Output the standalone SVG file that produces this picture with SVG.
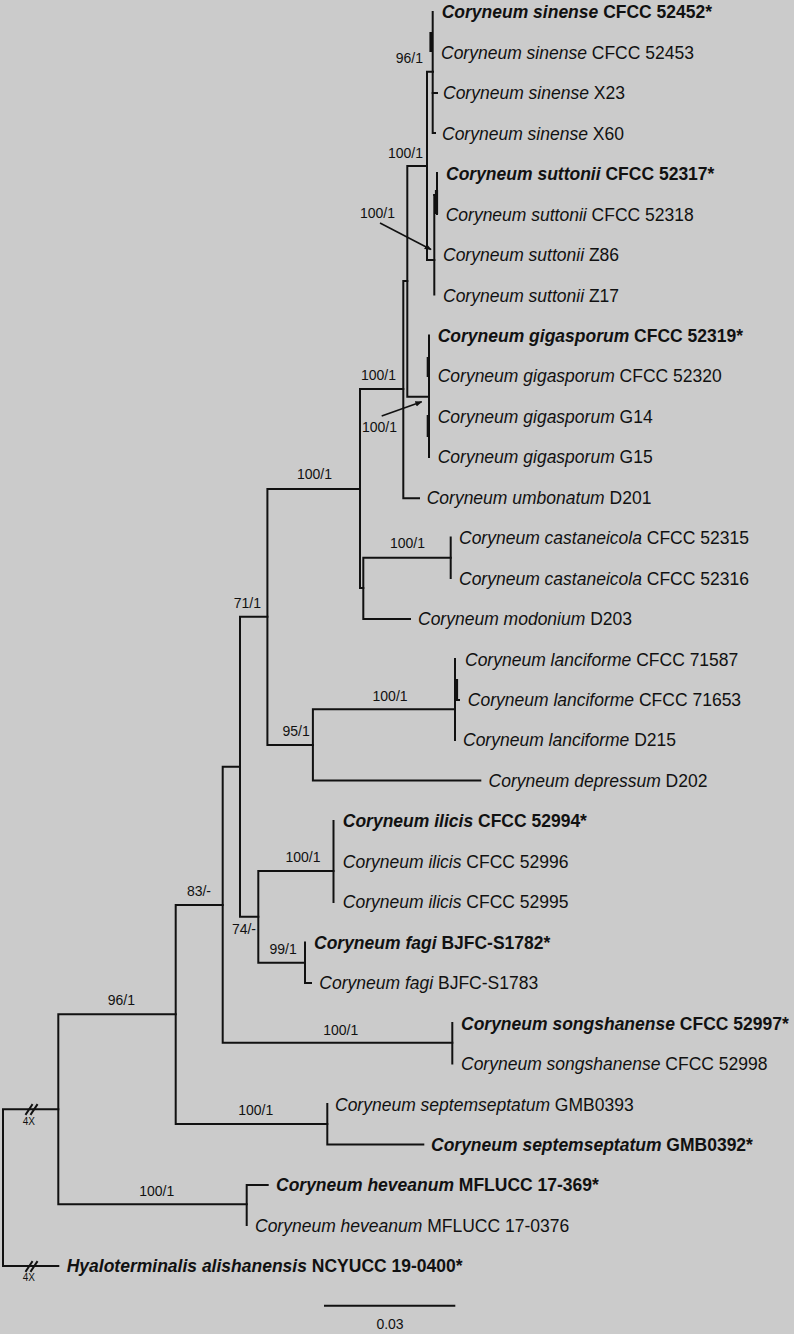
<svg xmlns="http://www.w3.org/2000/svg" width="794" height="1334" viewBox="0 0 794 1334">
<style>
.bg{fill:#cbcbcb}
.br{fill:none;stroke:#111;stroke-width:2;stroke-linecap:square}
.thk{fill:none;stroke:#111;stroke-width:3.2}
.arr{fill:none;stroke:#111;stroke-width:1.5}
.tip{font-family:"Liberation Sans",Arial,sans-serif;font-size:17.5px;fill:#111}
.b{font-weight:bold}
.i{font-style:italic}
.lab{font-family:"Liberation Sans",Arial,sans-serif;font-size:14px;fill:#111}
.sm{font-family:"Liberation Sans",Arial,sans-serif;font-size:10px;fill:#111}
</style>
<defs>
<marker id="ah" viewBox="0 0 10 10" refX="9" refY="5" markerWidth="7" markerHeight="7" orient="auto" markerUnits="userSpaceOnUse">
<path d="M0,1 L10,5 L0,9 Z" fill="#111"/>
</marker>
</defs>
<rect class="bg" x="0" y="0" width="794" height="1334"/>
<g id="connectors">
<path class="br" d="M58.3,1109.3 H3 V1266 H58.3"/>
<path class="br" d="M26,1114 L32,1105 M31,1114 L37,1105"/>
<path class="br" d="M26,1271 L32,1262 M31,1271 L37,1262" />
<path class="br" d="M175.7,1014.3 H58.3 V1204.3 H246.7"/>
<path class="br" d="M267.7,1185 H246.7 V1225"/>
<path class="br" d="M222.7,905 H175.7 V1124 H327.3"/>
<path class="br" d="M327.3,1104 V1144.5 H423.3"/>
<path class="br" d="M240,766.7 H222.7 V1042.7 H452.3"/>
<path class="br" d="M452.3,1023 V1063.5"/>
<path class="br" d="M267.4,616.7 H240 V916.7 H258.3"/>
<path class="br" d="M333.5,871 H258.3 V962.7 H305"/>
<path class="br" d="M333.5,821 V902"/>
<path class="br" d="M305,942.5 V983 H311"/>
<path class="br" d="M360,489 H267.4 V745 H312.9"/>
<path class="br" d="M455,709.3 H312.9 V780.5 H480.3"/>
<path class="br" d="M455,659 V740"/>
<path class="thk" d="M456.5,679 V700"/>
<path class="br" d="M456.5,700 H459"/>
<path class="br" d="M403.3,389 H360 V588 H363.3"/>
<path class="br" d="M450.7,557.7 H363.3 V619 H410"/>
<path class="br" d="M450.7,537.5 V578"/>
<path class="br" d="M407.3,281 H403.3 V498.3 H419"/>
<path class="br" d="M427,166 H407.3 V396.7 H428"/>
<path class="br" d="M429,335.5 V457"/>
<path class="thk" d="M428.3,357 V377 M428.3,415 V437"/>
<path class="br" d="M433,71.7 H427 V260 H434.3"/>
<path class="br" d="M432.7,12 V133 H435"/>
<path class="br" d="M432.7,93 H437"/>
<path class="thk" d="M431,32 V52"/>
<path class="br" d="M434.3,195 V294.5"/>
<path class="br" d="M434.3,195 H437"/>
<path class="br" d="M437,173 V214"/>
<path class="thk" d="M436.5,190 V214"/>
<path class="arr" d="M380,223 L431,249.5" marker-end="url(#ah)"/>
<path class="arr" d="M381.7,416 L421.7,401.7" marker-end="url(#ah)"/>
<path class="br" d="M325,1305.7 H454.3"/>
</g>
<g id="support-labels">
<text class="lab" x="423" y="63" text-anchor="end">96/1</text>
<text class="lab" x="423" y="158" text-anchor="end">100/1</text>
<text class="lab" x="395" y="218" text-anchor="end">100/1</text>
<text class="lab" x="396" y="380" text-anchor="end">100/1</text>
<text class="lab" x="397" y="432" text-anchor="end">100/1</text>
<text class="lab" x="332" y="479" text-anchor="end">100/1</text>
<text class="lab" x="425" y="548" text-anchor="end">100/1</text>
<text class="lab" x="261" y="608" text-anchor="end">71/1</text>
<text class="lab" x="407.6" y="701" text-anchor="end">100/1</text>
<text class="lab" x="309.8" y="736" text-anchor="end">95/1</text>
<text class="lab" x="320.5" y="862" text-anchor="end">100/1</text>
<text class="lab" x="211" y="896" text-anchor="end">83/-</text>
<text class="lab" x="256" y="933.5" text-anchor="end">74/-</text>
<text class="lab" x="296.7" y="953.5" text-anchor="end">99/1</text>
<text class="lab" x="135" y="1005" text-anchor="end">96/1</text>
<text class="lab" x="358.3" y="1035" text-anchor="end">100/1</text>
<text class="lab" x="273.3" y="1114.5" text-anchor="end">100/1</text>
<text class="lab" x="174.3" y="1196" text-anchor="end">100/1</text>
<text class="sm" x="28.8" y="1124.5" text-anchor="middle">4X</text>
<text class="sm" x="28.8" y="1280.5" text-anchor="middle">4X</text>
<text class="lab" x="390" y="1329" text-anchor="middle">0.03</text>
</g>
<g id="t01"><text class="tip b" x="441.7" y="18.3"><tspan class="i">Coryneum sinense</tspan> CFCC 52452*</text></g>
<g id="t02"><text class="tip" x="441" y="58.8"><tspan class="i">Coryneum sinense</tspan> CFCC 52453</text></g>
<g id="t03"><text class="tip" x="443" y="99.2"><tspan class="i">Coryneum sinense</tspan> X23</text></g>
<g id="t04"><text class="tip" x="442" y="139.7"><tspan class="i">Coryneum sinense</tspan> X60</text></g>
<g id="t05"><text class="tip b" x="446" y="180.1"><tspan class="i">Coryneum suttonii</tspan> CFCC 52317*</text></g>
<g id="t06"><text class="tip" x="445.7" y="220.6"><tspan class="i">Coryneum suttonii</tspan> CFCC 52318</text></g>
<g id="t07"><text class="tip" x="443" y="261"><tspan class="i">Coryneum suttonii</tspan> Z86</text></g>
<g id="t08"><text class="tip" x="443" y="301.5"><tspan class="i">Coryneum suttonii</tspan> Z17</text></g>
<g id="t09"><text class="tip b" x="437.7" y="341.9"><tspan class="i">Coryneum gigasporum</tspan> CFCC 52319*</text></g>
<g id="t10"><text class="tip" x="437.7" y="382.4"><tspan class="i">Coryneum gigasporum</tspan> CFCC 52320</text></g>
<g id="t11"><text class="tip" x="437.7" y="422.8"><tspan class="i">Coryneum gigasporum</tspan> G14</text></g>
<g id="t12"><text class="tip" x="437.7" y="463.3"><tspan class="i">Coryneum gigasporum</tspan> G15</text></g>
<g id="t13"><text class="tip" x="426.7" y="503.7"><tspan class="i">Coryneum umbonatum</tspan> D201</text></g>
<g id="t14"><text class="tip" x="459" y="544.2"><tspan class="i">Coryneum castaneicola</tspan> CFCC 52315</text></g>
<g id="t15"><text class="tip" x="459" y="584.6"><tspan class="i">Coryneum castaneicola</tspan> CFCC 52316</text></g>
<g id="t16"><text class="tip" x="418" y="625.1"><tspan class="i">Coryneum modonium</tspan> D203</text></g>
<g id="t17"><text class="tip" x="465" y="665.5"><tspan class="i">Coryneum lanciforme</tspan> CFCC 71587</text></g>
<g id="t18"><text class="tip" x="467.8" y="706"><tspan class="i">Coryneum lanciforme</tspan> CFCC 71653</text></g>
<g id="t19"><text class="tip" x="463" y="746.4"><tspan class="i">Coryneum lanciforme</tspan> D215</text></g>
<g id="t20"><text class="tip" x="488.6" y="786.9"><tspan class="i">Coryneum depressum</tspan> D202</text></g>
<g id="t21"><text class="tip b" x="342.8" y="827.3"><tspan class="i">Coryneum ilicis</tspan> CFCC 52994*</text></g>
<g id="t22"><text class="tip" x="342.8" y="867.8"><tspan class="i">Coryneum ilicis</tspan> CFCC 52996</text></g>
<g id="t23"><text class="tip" x="342.8" y="908.2"><tspan class="i">Coryneum ilicis</tspan> CFCC 52995</text></g>
<g id="t24"><text class="tip b" x="314" y="948.7"><tspan class="i">Coryneum fagi</tspan> BJFC-S1782*</text></g>
<g id="t25"><text class="tip" x="319.3" y="989.1"><tspan class="i">Coryneum fagi</tspan> BJFC-S1783</text></g>
<g id="t26"><text class="tip b" x="461" y="1029.6"><tspan class="i">Coryneum songshanense</tspan> CFCC 52997*</text></g>
<g id="t27"><text class="tip" x="461" y="1070"><tspan class="i">Coryneum songshanense</tspan> CFCC 52998</text></g>
<g id="t28"><text class="tip" x="335" y="1110.5"><tspan class="i">Coryneum septemseptatum</tspan> GMB0393</text></g>
<g id="t29"><text class="tip b" x="431" y="1150.9"><tspan class="i">Coryneum septemseptatum</tspan> GMB0392*</text></g>
<g id="t30"><text class="tip b" x="276" y="1191.4"><tspan class="i">Coryneum heveanum</tspan> MFLUCC 17-369*</text></g>
<g id="t31"><text class="tip" x="255" y="1231.8"><tspan class="i">Coryneum heveanum</tspan> MFLUCC 17-0376</text></g>
<g id="t32"><text class="tip b" x="66.7" y="1272.3"><tspan class="i">Hyaloterminalis alishanensis</tspan> NCYUCC 19-0400*</text></g>
</svg>
